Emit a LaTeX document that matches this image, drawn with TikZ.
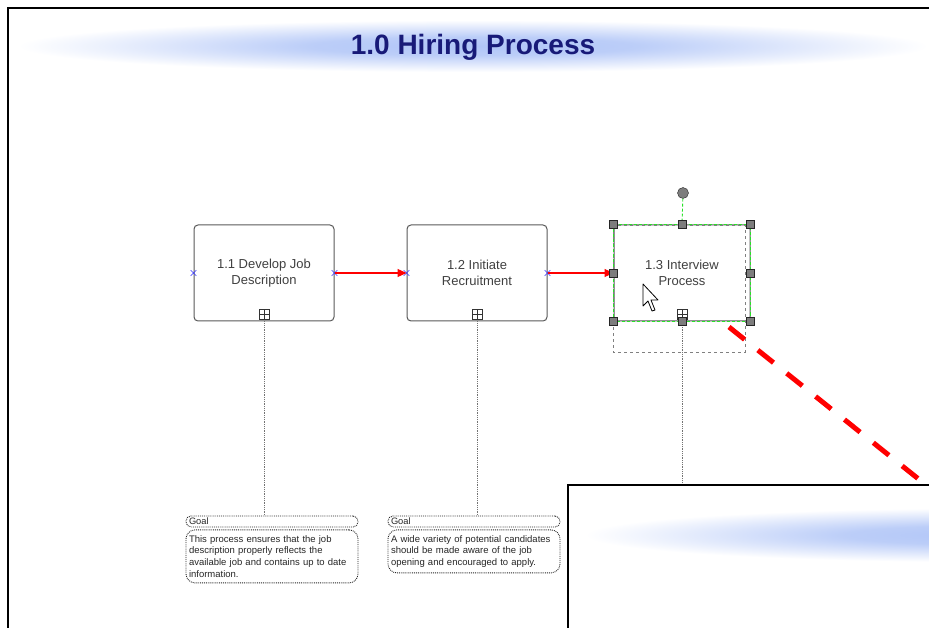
\documentclass[tikz,border=0pt]{standalone}
\usepackage{fontspec}
\setmainfont{Liberation Sans}
\usetikzlibrary{arrows.meta,positioning,shapes.misc}

\definecolor{glowblue}{RGB}{176,197,247}
\definecolor{titleblue}{RGB}{24,26,120}
\definecolor{handlegray}{RGB}{125,125,125}
\definecolor{selgreen}{RGB}{40,225,40}
\pgfdeclareradialshading{glow}{\pgfpoint{0bp}{0bp}}{color(0bp)=(glowblue); color(9bp)=(glowblue!85!white); color(25bp)=(white); color(50bp)=(white)}

\tikzset{
  process/.style={draw=black!65, line width=1pt, rounded corners=4pt, fill=white,
    minimum width=140pt, minimum height=96pt, align=center,
    font=\fontsize{13}{16}\selectfont, text=black!75},
  goalhead/.style={draw=black!85, densely dotted, line width=0.9pt, rounded corners=5pt,
    minimum width=172pt, minimum height=11pt, inner sep=0pt, text width=166pt,
    font=\fontsize{9.3}{11}\selectfont, text=black!85},
  goalbody/.style={goalhead, rounded corners=9pt, align=left, inner xsep=3pt,
    inner ysep=2pt, font=\fontsize{9.5}{11.7}\selectfont},
  flow/.style={draw=red, line width=1.2pt, -{Triangle[length=9pt,width=8pt]}},
  linkline/.style={draw=black!55, densely dotted, line width=0.8pt},
  portmark/.style={cross out, draw=blue!80, minimum size=5pt, inner sep=0pt, line width=0.6pt},
  expander/.style={draw=black!80, fill=white, minimum size=10pt, inner sep=0pt, line width=0.7pt,
    path picture={\draw[black!80, line width=0.7pt]
      (path picture bounding box.north) -- (path picture bounding box.south)
      (path picture bounding box.west) -- (path picture bounding box.east);}},
  handle/.style={draw=black!85, fill=handlegray, minimum size=8pt, inner sep=0pt, line width=0.7pt},
}

\begin{document}
\begin{tikzpicture}[x=1pt,y=-1pt]
    \useasboundingbox (0,0) rectangle (929,628);

    % Page frame
    \draw[line width=2pt] (8,628) -- (8,8) -- (929,8);

    % Title
    \shade[shading=glow] (18,20) rectangle (928,72);
    \node[font=\fontsize{28}{30}\selectfont\bfseries, text=titleblue] (title) at (473,47) {1.0 Hiring Process};

    % Processes
    \node[process] (p11) at (264,273) {1.1 Develop Job\\Description};
    \node[process] (p12) at (477,273) {1.2 Initiate\\Recruitment};
    \node[process, minimum width=136pt] (p13) at (682,273) {1.3 Interview\\Process};

    \foreach \p in {p11, p12, p13}
        \node[expander] at ([yshift=7pt]\p.south) {};

    % Ports
    \foreach \p in {p11, p12} {
        \node[portmark] at (\p.west) {};
        \node[portmark] at (\p.east) {};
    }

    % Flows
    \draw[flow] (p11.east) -- (p12.west);
    \draw[flow] (p12.east) -- (p13.west);

    % Goals
    \node[goalhead] (g11h) at (272,521.5) {Goal};
    \node[goalbody, below=2pt of g11h, minimum height=53pt] (g11b)
        {This process ensures that the job\\description properly reflects the\\available job and contains up to date\\information.};
    \node[goalhead] (g12h) at (474,521.5) {Goal};
    \node[goalbody, below=2pt of g12h, minimum height=43pt] (g12b)
        {A wide variety of potential candidates\\should be made aware of the job\\opening and encouraged to apply.};

    \draw[linkline] (p11.south) -- (p11.south |- g11h.north);
    \draw[linkline] (p12.south) -- (p12.south |- g12h.north);

    % Selection of 1.3
    \coordinate (inset) at (568,485);
    \draw[linkline] (p13.south) -- (p13.south |- inset);
    \draw[black!50, dashed, line width=0.8pt] (613,225) rectangle (745,352);
    \draw[selgreen, line width=0.9pt, dash pattern=on 3pt off 2pt] (p13.north west) rectangle (p13.south east);
    \node[circle, draw=black!85, fill=handlegray, minimum size=11pt, inner sep=0pt] (rot) at (683,193) {};
    \draw[selgreen, line width=0.9pt, dash pattern=on 3pt off 2pt] (rot) -- (p13.north);
    \foreach \a in {north west, north, north east, east, south east, south, south west, west}
        \node[handle] at (p13.\a) {};

    % Mouse pointer
    \draw[fill=white, line width=0.8pt, line join=round] (643,284) -- ++(0,22) -- ++(5,-5) -- ++(4,10)
        -- ++(3,-1) -- ++(-4,-10) -- ++(7,0) -- cycle;

    % Zoomed inset
    \begin{scope}
        \clip (inset) rectangle (929,628);
        \shade[shading=glow] (585,508) rectangle (1400,562);
    \end{scope}
    \draw[line width=2pt] (inset |- 0,628) -- (inset) -- (929,485);

    % Zoom pointer
    \coordinate (zsrc) at (729,327);
    \coordinate (zdst) at (921,481);
    \draw[red, line width=5pt, dash pattern=on 20pt off 17pt] (zsrc) -- (zdst);

\end{tikzpicture}
\end{document}
